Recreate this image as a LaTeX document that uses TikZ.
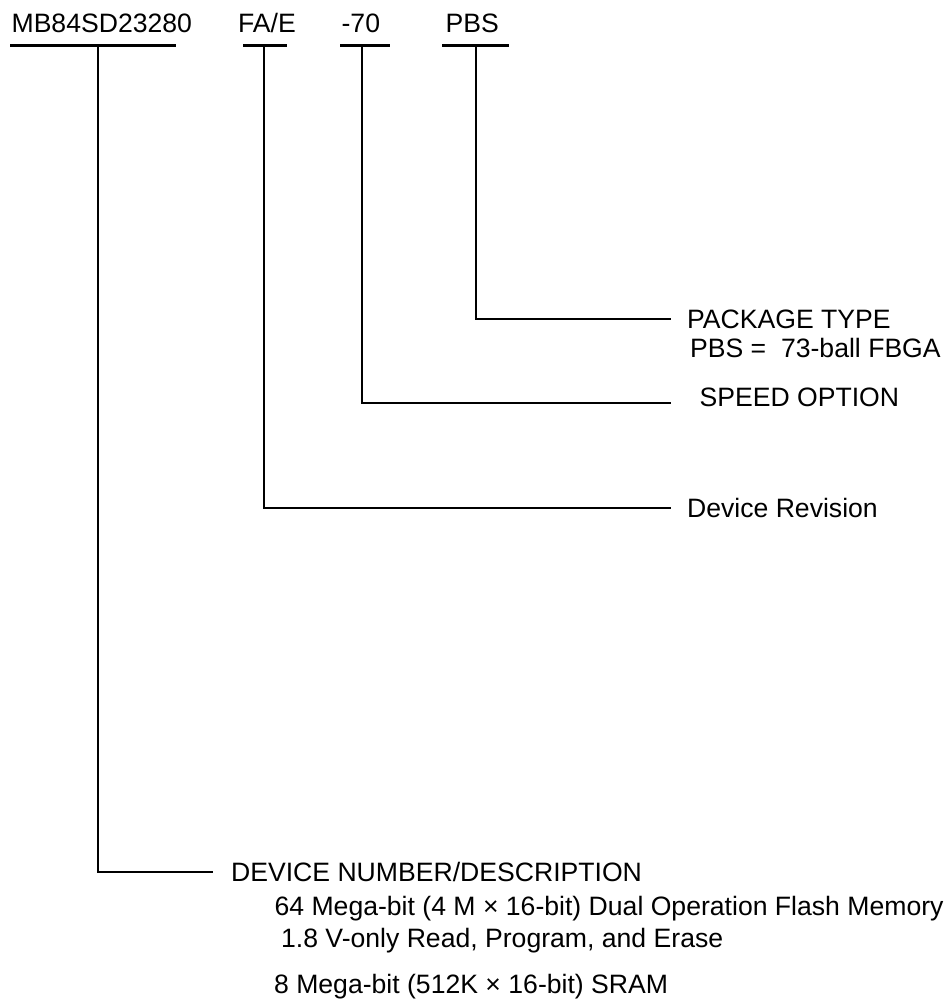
\documentclass[tikz,border=0pt]{standalone}
\usepackage{fontspec}
\setmainfont{Liberation Sans}
\usetikzlibrary{positioning}

\begin{document}
\begin{tikzpicture}[x=0.5pt,y=-0.5pt,line width=1.1pt,
    every node/.style={font=\fontsize{13.3}{16}\selectfont},
    field/.style={anchor=base west,inner sep=0pt},
    lbl/.style={anchor=base west,inner sep=0pt}]
  \useasboundingbox (0,0) rectangle (947,1000);
  % part number fields
  \node[field] (mb)  at (10.5,33)  {MB84SD23280};
  \node[field] (fae) at (237,33)   {FA/E};
  \node[field] (spd) at (340.5,33) {-70};
  \node[field] (pbs) at (444.5,33) {PBS};
  % underlines with their ticks
  \draw (10,45.5) -- (176,45.5);
  \draw (243,45.5) -- (287,45.5);
  \draw (340,45.5) -- (390,45.5);
  \draw (442,45.5) -- (509,45.5);
  \coordinate (mbT)  at (98,45.5);
  \coordinate (faeT) at (264,45.5);
  \coordinate (spdT) at (362,45.5);
  \coordinate (pbsT) at (476,45.5);
  % descriptions
  \node[lbl] (pkg)   at (686,328)   {PACKAGE TYPE};
  \node[lbl] (pkgv)  at (689,357)   {PBS =\ \ 73-ball FBGA};
  \node[lbl] (speed) at (698.5,406.5) {SPEED OPTION};
  \node[lbl] (rev)   at (686,517)   {Device Revision};
  \node[lbl] (dev)   at (230,881)   {DEVICE NUMBER/DESCRIPTION};
  \node[lbl] (flash) at (273.5,915) {64 Mega-bit (4 M × 16-bit) Dual Operation Flash Memory};
  \node[lbl] (volt)  at (280,947)   {1.8 V-only Read, Program, and Erase};
  \node[lbl] (sram)  at (273,993)   {8 Mega-bit (512K × 16-bit) SRAM};
  % leaders
  \coordinate (pkgE)   at (671,319);
  \coordinate (speedE) at (671,403);
  \coordinate (revE)   at (671,508);
  \coordinate (devE)   at (213,872);
  \draw (pbsT) |- (pkgE);
  \draw (spdT) |- (speedE);
  \draw (faeT) |- (revE);
  \draw (mbT)  |- (devE);
\end{tikzpicture}
\end{document}
